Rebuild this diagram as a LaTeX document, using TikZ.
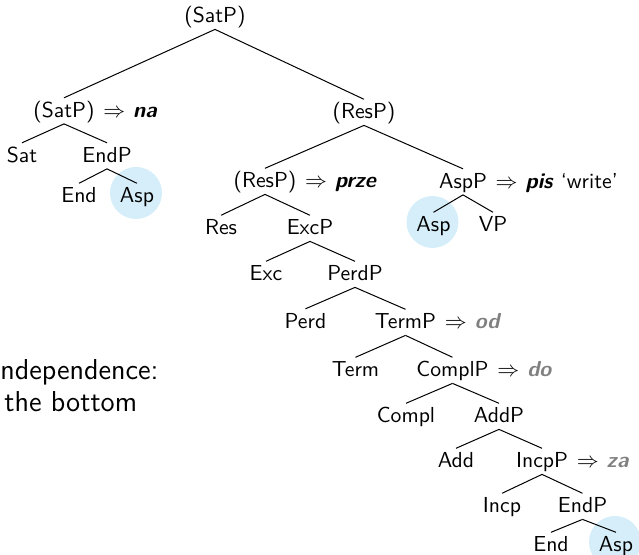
\documentclass[tikz,border=0pt]{standalone}
\usetikzlibrary{backgrounds}
\definecolor{hlblue}{RGB}{213,238,249}
\definecolor{morphgray}{RGB}{128,128,128}
\begin{document}
\begin{tikzpicture}[x=0.5pt,y=-0.5pt,
  tn/.style={anchor=base,inner sep=0pt,text height=9.65pt,text depth=3pt,
    font=\sffamily\fontsize{10.85}{13}\selectfont},
  morph/.style={anchor=base west,inner sep=0pt,
    font=\sffamily\fontsize{10.85}{13}\selectfont},
  branch/.style={line width=0.5pt},
  body/.style={anchor=base west,inner sep=0pt,
    font=\sffamily\fontsize{14.4}{17}\selectfont},
  hl/.style={fill=hlblue}]
\useasboundingbox (0,0) rectangle (639,555);

% upper part
\node[tn] (root)  at (215,23)    {(SatP)};
\node[tn] (satp)  at (64,117.5)  {(SatP)};
\node[tn] (resp)  at (364,119)   {(ResP)};
% left branch
\node[tn] (sat)   at (22,162.5)  {Sat};
\node[tn] (endpA) at (107,162.5) {EndP};
\node[tn] (endA)  at (79,203)    {End};
\node[tn] (aspA)  at (137,203)   {Asp};
% right branch
\node[tn] (respB) at (265,188)   {(ResP)};
\node[tn] (aspp)  at (463,188.5) {AspP};
\node[tn] (res)   at (221,235)   {Res};
\node[tn] (excp)  at (310,235)   {ExcP};
\node[tn] (aspB)  at (433.5,232) {Asp};
\node[tn] (vp)    at (493,232)   {VP};
\node[tn] (exc)   at (266,281)   {Exc};
\node[tn] (perdp) at (355,281)   {PerdP};
\node[tn] (perd)  at (305.5,328.5) {Perd};
\node[tn] (termp) at (405.5,329) {TermP};
\node[tn] (term)  at (355.5,377) {Term};
\node[tn] (complp) at (452.5,377) {ComplP};
\node[tn] (compl) at (406,423)   {Compl};
\node[tn] (addp)  at (499,423)   {AddP};
\node[tn] (add)   at (456,468)   {Add};
\node[tn] (incpp) at (542,468)   {IncpP};
\node[tn] (incp)  at (502,513)   {Incp};
\node[tn] (endpC) at (582.5,513) {EndP};
\node[tn] (endC)  at (551,552)   {End};
\node[tn] (aspC)  at (616,552)   {Asp};

% spell-out annotations
\node[morph] (naL)   at (satp.base east)  {\hspace{4pt}$\Rightarrow$\hspace{4pt}\textbf{\textit{na}}};
\node[morph] (przeL) at (respB.base east) {\hspace{4pt}$\Rightarrow$\hspace{4pt}\textbf{\textit{prze}}};
\node[morph] (pisL)  at (aspp.base east)  {\hspace{4pt}$\Rightarrow$\hspace{4pt}\textbf{\textit{pis}} `write'};
\node[morph] (odL)   at (termp.base east) {\hspace{4pt}$\Rightarrow$\hspace{4pt}\textcolor{morphgray}{\textbf{\textit{od}}}};
\node[morph] (doL)   at (complp.base east) {\hspace{4pt}$\Rightarrow$\hspace{4pt}\textcolor{morphgray}{\textbf{\textit{do}}}};
\node[morph] (zaL)   at (incpp.base east) {\hspace{4pt}$\Rightarrow$\hspace{4pt}\textcolor{morphgray}{\textbf{\textit{za}}}};

% highlighted Asp heads
\begin{scope}[on background layer]
  \fill[hl] ([xshift=-0.5pt,yshift=5pt]aspA.base) circle (13pt);
  \fill[hl] ([xshift=-0.5pt,yshift=5pt]aspB.base) circle (13pt);
  \fill[hl] ([xshift=-0.5pt,yshift=5pt]aspC.base) circle (13pt);
\end{scope}

% branches
\foreach \p/\c in {root/satp, root/resp,
    satp/sat, satp/endpA, endpA/endA, endpA/aspA,
    resp/respB, resp/aspp, respB/res, respB/excp, aspp/aspB, aspp/vp,
    excp/exc, excp/perdp, perdp/perd, perdp/termp,
    termp/term, termp/complp, complp/compl, complp/addp,
    addp/add, addp/incpp, incpp/incp, incpp/endpC,
    endpC/endC, endpC/aspC}
  \draw[branch] (\p.south) -- (\c.north);

% running text at the left edge
\node[body] (txtA) at (0,380) {ndependence:};
\node[body] (txtB) at (4,412) {the bottom};
\end{tikzpicture}
\end{document}
